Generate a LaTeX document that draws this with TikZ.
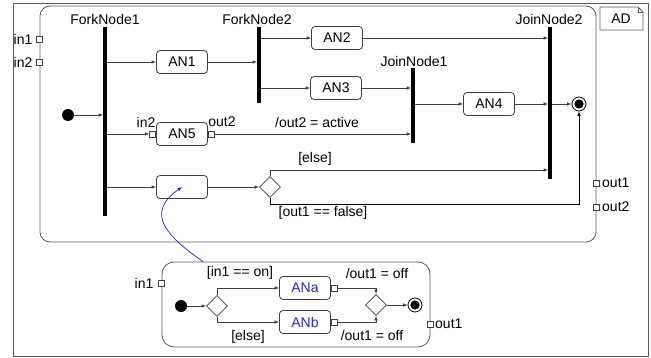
\documentclass[tikz,border=0pt]{standalone}
\usepackage{fontspec}
\setmainfont{Liberation Sans}
\usetikzlibrary{arrows.meta,shapes.geometric,calc}
\definecolor{linegray}{HTML}{404040}
\definecolor{framegray}{HTML}{5A5A5A}
\definecolor{actblue}{HTML}{2424E0}
\begin{document}
\begin{tikzpicture}[x=1pt,y=-1pt,
  font=\fontsize{14}{16}\selectfont,
  every node/.style={inner sep=0pt},
  action/.style={draw=linegray, line width=0.8pt, rounded corners=3.5pt, minimum width=51pt, minimum height=23pt},
  bar/.style={fill=black, minimum width=3.2pt},
  port/.style={draw=linegray, line width=0.7pt, fill=white, minimum size=6pt},
  decision/.style={diamond, draw=linegray, line width=0.8pt, fill=white, minimum width=21pt, minimum height=21pt},
  initnode/.style={circle, fill=black, minimum size=12pt},
  finalnode/.style={circle, draw=black, line width=0.8pt, fill=white, minimum size=14pt,
    path picture={\fill[black] (path picture bounding box.center) circle (4.6pt);}},
  flow/.style={draw=linegray, line width=0.8pt, -{Latex[length=4.5pt,width=3.6pt]}},
  region/.style={draw=framegray, line width=0.8pt},
]
\useasboundingbox (0,0) rectangle (651,358);

% outer diagram border
\draw[draw=framegray, line width=0.9pt] (13,3) rectangle (648,356);

% activity frame and its tab
\node[region, rounded corners=10pt, minimum width=556pt, minimum height=236pt] (ad) at (318,124) {};
\draw[region] (600,7) -- (638,7) -- (643,12) -- (643,30) -- (600,30) -- cycle;
\draw[draw=framegray, line width=0.5pt] (638,7) -- (638,12) -- (643,12);
\node (adtitle) at (621,19) {AD};

% frame ports
\node[port] (pin1) at (ad.west |- 0,39) {};
\node[port] (pin2) at (ad.west |- 0,62) {};
\node[port] (pout1) at (ad.east |- 0,183) {};
\node[port] (pout2) at (ad.east |- 0,207) {};
\node (lin1) at (23,39) {in1};
\node (lin2) at (23,62) {in2};
\node[anchor=west] (lout1) at (602,183) {out1};
\node[anchor=west] (lout2) at (602,207) {out2};

% fork and join bars
\node[bar, minimum height=189pt] (fork1) at (105,121.5) {};
\node[bar, minimum height=76pt] (fork2) at (259,65) {};
\node[bar, minimum height=75pt] (join1) at (413,105.5) {};
\node[bar, minimum height=152pt] (join2) at (550,103) {};
\node (lfork1) at (105,19) {ForkNode1};
\node (lfork2) at (257,19) {ForkNode2};
\node (ljoin1) at (414,61) {JoinNode1};
\node (ljoin2) at (549,19) {JoinNode2};

% initial and final nodes
\node[initnode] (init) at (68,115) {};
\node[finalnode] (final) at (579,104) {};

% actions
\node[action] (an1) at (182,62) {AN1};
\node[action] (an2) at (337,38) {AN2};
\node[action] (an3) at (336,88) {AN3};
\node[action] (an4) at (489,104) {AN4};
\node[action] (an5) at (182,134) {AN5};
\node[action] (an6) at (182,187) {};
\node[port, anchor=east] (an5in) at (an5.west) {};
\node[port, anchor=west] (an5out) at (an5.east) {};
\node (lan5in) at (146,122) {in2};
\node (lan5out) at (222,122) {out2};
\node[decision] (dec) at (270,187) {};

% control and object flows
\draw[flow] (init) -- (fork1.west |- init);
\draw[flow] (fork1.east |- an1) -- (an1);
\draw[flow] (an1) -- (fork2.west |- an1);
\draw[flow] (fork2.east |- an2) -- (an2);
\draw[flow] (an2) -- (join2.west |- an2);
\draw[flow] (fork2.east |- an3) -- (an3);
\draw[flow] (an3) -- (join1.west |- an3);
\draw[flow] (join1.east |- an4) -- (an4);
\draw[flow] (an4) -- (join2.west |- an4);
\draw[flow] (join2.east |- final) -- (final);
\draw[flow] (fork1.east |- an5) -- (an5in);
\draw[flow] (an5out) -- (join1.west |- an5out);
\node (lactive) at (317,122) {/out2 = active};
\draw[flow] (fork1.east |- an6) -- (an6);
\draw[flow] (an6) -- (dec);
\draw[flow] (dec.north) |- (join2.west |- 0,170);
\draw[flow, draw=black] (dec.south) |- (final |- 0,204) -- (final.south);
\node (lelse) at (315,159) {[else]};
\node (lfalse) at (323,213) {[out1 == false]};

% refinement of the unnamed action
\node[region, rounded corners=12pt, minimum width=268pt, minimum height=85pt] (sub) at (296,304.5) {};
\node[port] (sin1) at (sub.west |- 0,283) {};
\node[port] (sout1) at (sub.east |- 0,324) {};
\node (lsin1) at (144,283) {in1};
\node[anchor=west] (lsout1) at (435,324) {out1};
\node[initnode] (sinit) at (181,306) {};
\node[decision] (sdec1) at (217,306) {};
\node[action, text=actblue] (ana) at (305,288) {ANa};
\node[action, text=actblue] (anb) at (305,322) {ANb};
\node[port, anchor=west] (anaout) at (ana.east) {};
\node[port, anchor=west] (anbout) at (anb.east) {};
\node[decision] (sdec2) at (376,305) {};
\node[finalnode] (sfinal) at (415,305) {};
\draw[flow] (sinit) -- (sdec1);
\draw[flow] (sdec1.north) |- (ana);
\draw[flow] (sdec1.south) |- (anb);
\draw[flow] (anaout) -| (sdec2.north);
\draw[flow] (anbout) -| (sdec2.south);
\draw[flow] (sdec2) -- (sfinal);
\node (lon) at (240,273) {[in1 == on]};
\node (lsubelse) at (248,337) {[else]};
\node (loffa) at (377,273) {/out1 = off};
\node (loffb) at (372,335) {/out1 = off};

% link from the action to its refinement
\draw[actblue, line width=0.7pt, -{Latex[length=4.5pt,width=3.6pt]}]
  (sub.north -| 203,0) to[out=145, in=215, looseness=1.5] (an6.center);
\end{tikzpicture}
\end{document}
